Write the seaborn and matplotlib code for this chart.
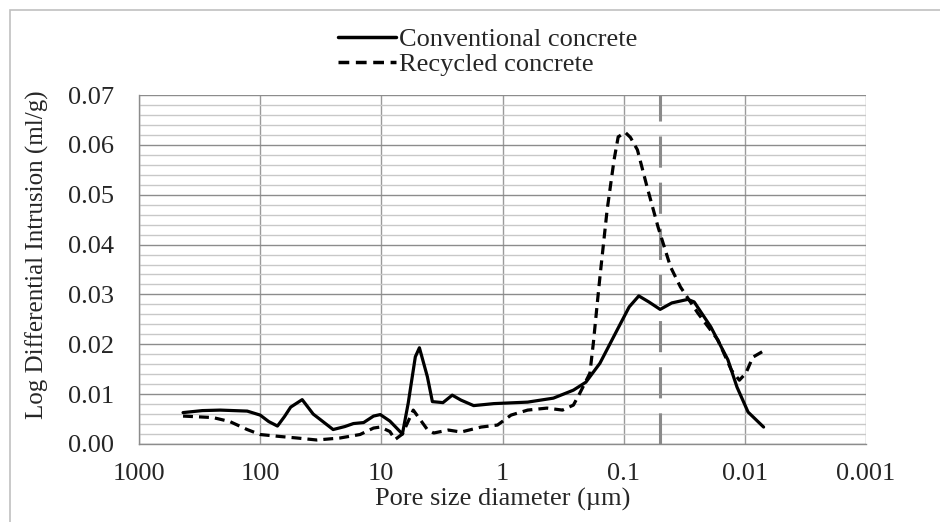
import numpy as np
import pandas as pd
import matplotlib
matplotlib.use("Agg")
import matplotlib.pyplot as plt
import seaborn as sns
from matplotlib.patches import Rectangle
from matplotlib.ticker import FixedLocator, MultipleLocator, FuncFormatter

# Pore size distribution (MIP) - log differential intrusion vs pore diameter
conv_diam = [433, 300, 214, 128, 100, 85, 72, 63, 56, 45, 36.5, 31.5, 25, 20, 17, 14,
             11.6, 10.2, 8.5, 6.7, 6.0, 5.24, 4.85, 4.17, 3.79, 3.1, 2.6, 2.2, 1.73,
             1.18, 0.62, 0.38, 0.26, 0.205, 0.157, 0.113, 0.09, 0.075, 0.062, 0.05,
             0.04, 0.0296, 0.0262, 0.0191, 0.0138, 0.0116, 0.0094, 0.0070]
conv_vals = [0.0063, 0.0067, 0.0068, 0.0066, 0.0058, 0.0045, 0.0036, 0.0055, 0.0074,
             0.0089, 0.0060, 0.0048, 0.0029, 0.0035, 0.0041, 0.0043, 0.0056, 0.0059,
             0.0046, 0.0020, 0.0082, 0.0175, 0.0193, 0.0135, 0.0085, 0.0083, 0.0098,
             0.0088, 0.0077, 0.0081, 0.0084, 0.0092, 0.0108, 0.0124, 0.0162, 0.0229,
             0.0275, 0.0297, 0.0285, 0.0270, 0.0283, 0.0290, 0.0285, 0.0235, 0.0169,
             0.0114, 0.0064, 0.0034]

rec_diam = [433, 245, 178, 128, 100, 68, 49.5, 34, 22, 15, 11.6, 10.2, 8.5, 7.7, 6.7,
            5.45, 4.2, 3.7, 2.8, 2.2, 1.5, 1.1, 0.85, 0.62, 0.43, 0.32, 0.26, 0.23,
            0.19, 0.178, 0.165, 0.157, 0.137, 0.12, 0.111, 0.097, 0.088, 0.077,
            0.064, 0.052, 0.041, 0.034, 0.0245, 0.0167, 0.0129, 0.0111, 0.0098,
            0.0086, 0.0072]
rec_vals = [0.0056, 0.0053, 0.0045, 0.0029, 0.0019, 0.0015, 0.0012, 0.0008, 0.0012,
            0.0019, 0.0032, 0.0034, 0.0025, 0.0009, 0.0020, 0.0068, 0.0030, 0.0022,
            0.0028, 0.0024, 0.0034, 0.0038, 0.0058, 0.0068, 0.0072, 0.0068, 0.0078,
            0.0102, 0.0142, 0.0202, 0.0283, 0.0335, 0.0469, 0.0570, 0.0616, 0.0625,
            0.0615, 0.0590, 0.0515, 0.0435, 0.0355, 0.0315, 0.0263, 0.0209, 0.0148,
            0.0128, 0.0142, 0.0174, 0.0185]

series_names = ["Conventional concrete", "Recycled concrete"]
x_ticks = [1000, 100, 10, 1, 0.1, 0.01, 0.001]
x_tick_labels = ["1000", "100", "10", "1", "0.1", "0.01", "0.001"]
marker_diameter = 0.05

df = pd.concat([
    pd.DataFrame({"d": conv_diam, "v": conv_vals, "series": series_names[0]}),
    pd.DataFrame({"d": rec_diam, "v": rec_vals, "series": series_names[1]}),
], ignore_index=True)

sns.set_style("white")
plt.rcParams["font.family"] = ["Liberation Serif", "DejaVu Serif"]

fig = plt.figure(figsize=(9.4, 5.22), dpi=100)
ax = fig.add_axes([139 / 940, 1 - 444 / 522, (866 - 139) / 940, (444 - 95) / 522])

# figure frame
fig.patches.append(Rectangle((10 / 940, -0.05), 1.2, 1 - 10 / 522 + 0.05,
                             transform=fig.transFigure, fill=False,
                             edgecolor="#c0c0c0", lw=1.2, zorder=0))

ax.set_xscale("log")
ax.set_xlim(1000, 0.001)
ax.set_ylim(0, 0.07)

# grid
ax.yaxis.set_major_locator(MultipleLocator(0.01))
ax.yaxis.set_minor_locator(MultipleLocator(0.002))
ax.xaxis.set_major_locator(FixedLocator(x_ticks))
ax.xaxis.set_minor_locator(FixedLocator([]))
ax.grid(which="major", axis="y", color="#8c8c8c", lw=1.0)
ax.grid(which="minor", axis="y", color="#c8c8c8", lw=1.0)
ax.grid(which="major", axis="x", color="#9a9a9a", lw=1.0)
ax.set_axisbelow(True)

ax.axvline(marker_diameter, color="#8a8a8a", lw=2.2, dashes=(10.2, 4.9), zorder=1)

sns.lineplot(data=df, x="d", y="v", hue="series", style="series",
             palette={series_names[0]: "black", series_names[1]: "black"},
             dashes={series_names[0]: "", series_names[1]: (3.1, 1.9)},
             lw=2.3, sort=False, estimator=None, ax=ax, zorder=3)

for s in ["top", "right"]:
    ax.spines[s].set_visible(False)
ax.spines["left"].set_color("#8c8c8c")
ax.spines["bottom"].set_color("#8c8c8c")
ax.spines["left"].set_linewidth(1.0)
ax.spines["bottom"].set_linewidth(1.0)

ax.set_xticklabels(x_tick_labels)
ax.yaxis.set_major_formatter(FuncFormatter(lambda v, p: f"{v:.2f}"))
ax.tick_params(axis="both", which="major", labelsize=19, length=7, width=1,
               color="#8c8c8c", direction="out")
ax.tick_params(axis="both", which="minor", length=0)
ax.tick_params(axis="y", pad=11)
ax.tick_params(axis="x", length=7, pad=7)

ax.set_xlabel("Pore size diameter (\u00b5m)", fontsize=19, labelpad=2)
ax.set_ylabel("Log Differential Intrusion (ml/g)", fontsize=18)
ax.yaxis.set_label_coords(-0.124, 0.542)

leg = ax.legend(loc="lower center", bbox_to_anchor=(0.48, 1.054), frameon=False,
                fontsize=19, handlelength=2.2, handletextpad=0.1,
                labelspacing=0.05, borderaxespad=0, borderpad=0)
for line in leg.get_lines():
    line.set_linewidth(2.5)

fig.savefig("out.png", dpi=100)
